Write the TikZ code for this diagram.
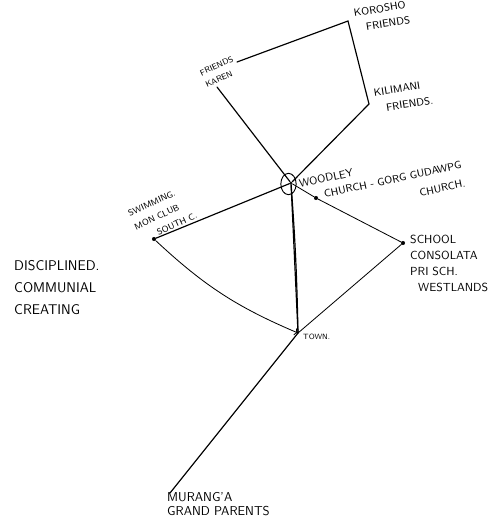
\documentclass[tikz,border=0pt]{standalone}
\usetikzlibrary{arrows.meta, shapes.geometric}
\tikzset{tie/.style={line width=1pt, line cap=round}}
\tikzset{thin tie/.style={line width=0.7pt, line cap=round}}
\tikzset{spot/.style={circle, fill, inner sep=0pt, minimum size=3.5pt}}
\tikzset{lbl/.style 2 args={font=\sffamily\fontsize{#1}{#2}\selectfont, align=left, inner sep=0pt}}
\begin{document}
\begin{tikzpicture}[x=0.03cm, y=0.03cm]
            \useasboundingbox (0,0) rectangle (492,-522);
            \coordinate (karenA) at (237,-62);
            \coordinate (karenB) at (217,-87);
            \coordinate (koroshu) at (348,-21);
            \coordinate (kilimani) at (369,-104);
            \coordinate (muranga) at (170,-493);
            \coordinate (town) at (298,-333);
            \node[spot, minimum size=2.5pt] (hub) at (291,-183) {};
            \node[ellipse, draw, line width=0.8pt, minimum width=0.46cm, minimum height=0.64cm, inner sep=0pt] (woodley) at (288.5,-184) {};
            \node[spot] (church) at (316,-198) {};
            \node[spot] (school) at (403,-243) {};
            \node[spot] (swimming) at (154,-239) {};
            % labels
            \node[lbl={7}{11}, rotate=25, anchor=south west] (karenlbl) at (207,-88) {FRIENDS\\KAREN};
            \node[lbl={9}{13}, rotate=9, anchor=north west] (koroshulbl) at (353,-9) {KOROSHO\\\hspace*{0.3cm}FRIENDS};
            \node[lbl={9}{14}, rotate=9, anchor=north west] (kilimanilbl) at (373,-89) {KILIMANI\\\hspace*{0.3cm}FRIENDS.};
            \node[lbl={9.5}{11}, rotate=12, anchor=south west] (woodleylbl) at (300,-188) {WOODLEY};
            \node[lbl={9}{16}, align=right, rotate=12, anchor=north west] (churchlbl) at (323,-190) {CHURCH - GORG GUDAWPG\\CHURCH.};
            \node[lbl={7.5}{12.5}, rotate=25, anchor=north west] (swimminglbl) at (127,-211) {SWIMMING.\\MON CLUB\\\hspace*{0.54cm}SOUTH C.};
            \node[lbl={10}{13.6}, anchor=north west] (schoollbl) at (410,-235) {SCHOOL\\CONSOLATA\\PRI SCH.\\\hspace*{0.24cm}WESTLANDS};
            \node[lbl={6.5}{8}, anchor=north west] (townlbl) at (303,-334) {TOWN.};
            \node[lbl={11}{12.5}, anchor=north west] (murangalbl) at (167,-492) {MURANG'A\\GRAND PARENTS};
            \node[lbl={12}{19}, anchor=north west] (values) at (14,-260) {DISCIPLINED.\\COMMUNIAL\\CREATING};
            % ties
            \draw[tie] (karenA) -- (koroshu) -- (kilimani);
            \draw[tie] (kilimani) -- (hub);
            \draw[tie] (karenB) -- (hub);
            \draw[tie] (swimming) -- (hub);
            \draw[thin tie] (hub) -- (church) -- (school) -- (town);
            \draw[thin tie, -{To[length=3pt]}] (swimming) to[bend right=10] (town);
            \draw[tie] (hub) -- (town);
            \draw[tie] (hub) to[bend left=1.5] (town);
            \draw[tie] (town) -- (muranga);
        \end{tikzpicture}
\end{document}
